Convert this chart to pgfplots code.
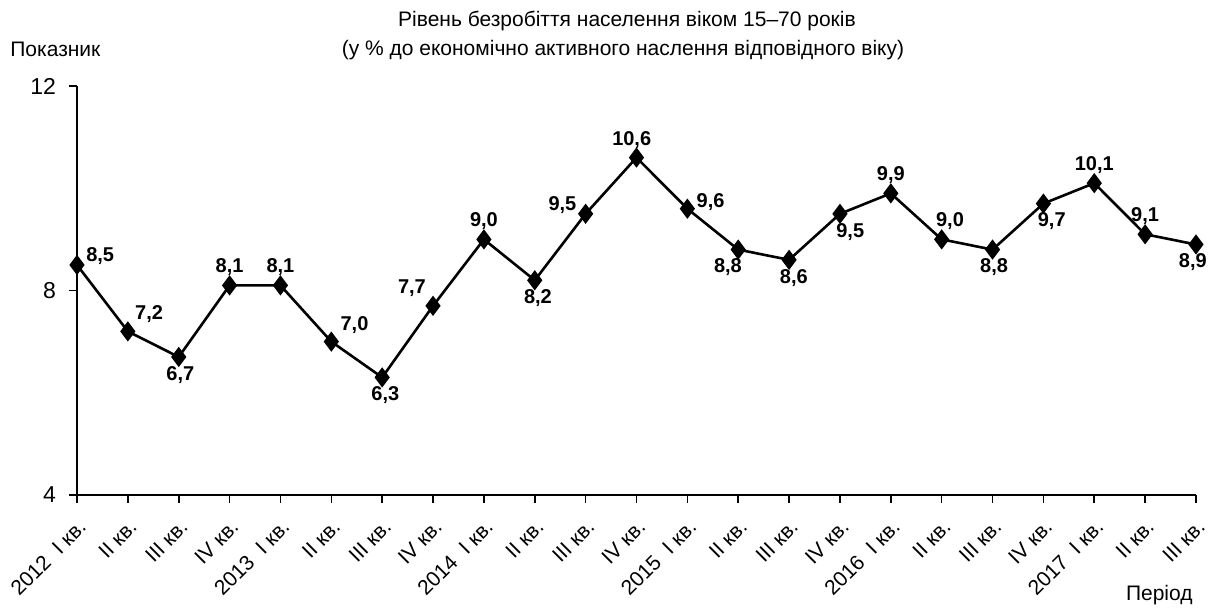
\documentclass[border=0pt]{standalone}
\usepackage{pgfplots}
\usepackage{pgfplotstable}
\pgfplotsset{compat=1.18}
\usetikzlibrary{calc}
\usepackage{fontspec}
\setmainfont{Liberation Sans}

% x  y  anchor-angle  label
\pgfplotstableread{
x y ang lbl
0 8.5 200 8,5
1 7.2 220 7,2
2 6.7 95 6,7
3 8.1 270 8,1
4 8.1 270 8,1
5 7.0 215 7,0
6 6.3 100 6,3
7 7.7 320 7,7
8 9.0 270 9,0
9 8.2 100 8,2
10 9.5 340 9,5
11 10.6 285 10,6
12 9.6 195 9,6
13 8.8 60 8,8
14 8.6 105 8,6
15 9.5 120 9,5
16 9.9 270 9,9
17 9.0 245 9,0
18 8.8 95 8,8
19 9.7 115 9,7
20 10.1 270 10,1
21 9.1 270 9,1
22 8.9 80 8,9
}\unemp

\begin{document}
\begin{tikzpicture}
  \begin{axis}[name=ax,
    scale only axis, width=559.5pt, height=204.5pt,
    xmin=0, xmax=22, ymin=4, ymax=12,
    axis lines=left, axis line style={-, line width=0.8pt},
    tick align=outside, major tick length=4pt,
    tick style={black, line width=0.8pt},
    ytick={4,8,12},
    xtick={0,...,22},
    xticklabels={2012\ \ I кв., II кв., III кв., IV кв.,
      2013\ \ I кв., II кв., III кв., IV кв.,
      2014\ \ I кв., II кв., III кв., IV кв.,
      2015\ \ I кв., II кв., III кв., IV кв.,
      2016\ \ I кв., II кв., III кв., IV кв.,
      2017\ \ I кв., II кв., III кв.},
    xticklabel style={rotate=45, anchor=north east, font=\fontsize{10.5}{12}\selectfont,
      inner sep=1pt},
    xticklabel shift=6pt,
    yticklabel style={font=\fontsize{11.5}{13}\selectfont, xshift=-3pt},
    /pgf/number format/assume math mode=true,
    clip=false,
  ]
    \addplot[black, line width=1.3pt, mark=diamond*, mark size=4pt,
      mark options={solid, fill=black},
      point meta=explicit symbolic,
      visualization depends on={\thisrow{ang} \as \ang},
      nodes near coords,
      nodes near coords style={anchor=\ang, inner sep=4pt,
        font=\bfseries\fontsize{10}{12}\selectfont, black}]
      table[x=x, y=y, meta=lbl] {\unemp};
  \end{axis}
  \node[anchor=base, font=\fontsize{10.5}{12}\selectfont]
    at ($(ax.north west)+(275pt,30pt)$) {Рівень безробіття населення віком 15–70 років};
  \node[anchor=base, font=\fontsize{10.5}{12}\selectfont]
    at ($(ax.north west)+(273pt,15.5pt)$) {(у \% до економічно активного наслення відповідного віку)};
  \node[anchor=base west, inner sep=0pt, font=\fontsize{10.5}{12}\selectfont]
    at ($(ax.north west)+(-33.5pt,15pt)$) {Показник};
  \node[anchor=base east, inner sep=0pt, font=\fontsize{10.5}{12}\selectfont]
    at ($(ax.south west)+(558pt,-53pt)$) {Період};
  \pgfresetboundingbox
  \path[use as bounding box] ($(ax.south west)+(-38.5pt,-57.5pt)$) rectangle ($(ax.south west)+(570pt,247.5pt)$);
\end{tikzpicture}
\end{document}
